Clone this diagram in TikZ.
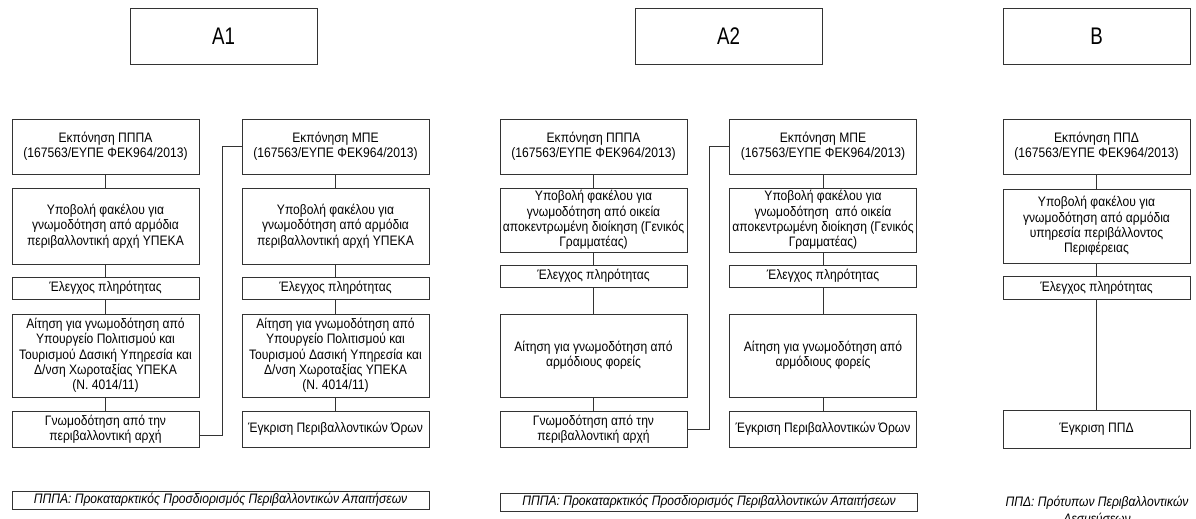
\documentclass[tikz,border=0pt]{standalone}
\usepackage{fontspec}
\setmainfont{Liberation Sans}[FakeStretch=0.88]
\newfontfamily\headfont[FakeStretch=0.78]{Liberation Sans}
\tikzset{procbox/.style={draw=black!80, line width=0.6pt, minimum width=140.25pt, inner sep=0pt,
			align=center, font=\fontsize{10.3}{11.5}\selectfont},
	headbox/.style={draw=black!80, line width=0.6pt, minimum width=140.25pt, minimum height=42pt,
			font=\headfont\fontsize{18}{20}\selectfont},
	notebox/.style={draw=black!80, line width=0.6pt, minimum width=312.75pt, minimum height=13.5pt,
			inner sep=0pt, font=\itshape\fontsize{10.3}{11}\selectfont},
	wire/.style={draw=black!80, line width=0.6pt}}

\begin{document}
\begin{tikzpicture}[x=0.75pt, y=-0.75pt]
	\useasboundingbox (0,0) rectangle (1196,518);

	% headings
	\node[headbox] (hA1) at (223.5, 36) {A1};
	\node[headbox] (hA2) at (728.5, 36) {A2};
	\node[headbox] (hB) at (1096.5, 36) {B};

	% A1, left
	\node[procbox, minimum height=41.25pt] (a1p1) at (105.5, 146.5) {Εκπόνηση ΠΠΠΑ\\(167563/ΕΥΠΕ ΦΕΚ964/2013)};
	\node[procbox, minimum height=57pt] (a1p2) at (105.5, 226) {Υποβολή φακέλου για\\γνωμοδότηση από αρμόδια\\περιβαλλοντική αρχή ΥΠΕΚΑ};
	\node[procbox, minimum height=16.5pt] (a1p3) at (105.5, 288) {Έλεγχος πληρότητας};
	\node[procbox, minimum height=62.25pt] (a1p4) at (105.5, 355.5) {Αίτηση για γνωμοδότηση από\\Υπουργείο Πολιτισμού και\\Τουρισμού Δασική Υπηρεσία και\\Δ/νση Χωροταξίας ΥΠΕΚΑ\\(Ν. 4014/11)};
	\node[procbox, minimum height=27pt] (a1p5) at (105.5, 429) {Γνωμοδότηση από την\\περιβαλλοντική αρχή};
	% A1, right
	\node[procbox, minimum height=41.25pt] (a1m1) at (335.5, 146.5) {Εκπόνηση ΜΠΕ\\(167563/ΕΥΠΕ ΦΕΚ964/2013)};
	\node[procbox, minimum height=57pt] (a1m2) at (335.5, 226) {Υποβολή φακέλου για\\γνωμοδότηση από αρμόδια\\περιβαλλοντική αρχή ΥΠΕΚΑ};
	\node[procbox, minimum height=16.5pt] (a1m3) at (335.5, 288) {Έλεγχος πληρότητας};
	\node[procbox, minimum height=62.25pt] (a1m4) at (335.5, 355.5) {Αίτηση για γνωμοδότηση από\\Υπουργείο Πολιτισμού και\\Τουρισμού Δασική Υπηρεσία και\\Δ/νση Χωροταξίας ΥΠΕΚΑ\\(Ν. 4014/11)};
	\node[procbox, minimum height=27pt] (a1m5) at (335.5, 429) {Έγκριση Περιβαλλοντικών Όρων};

	% A2, left
	\node[procbox, minimum height=41.25pt] (a2p1) at (593.5, 146.5) {Εκπόνηση ΠΠΠΑ\\(167563/ΕΥΠΕ ΦΕΚ964/2013)};
	\node[procbox, minimum height=48pt] (a2p2) at (593.5, 220) {Υποβολή φακέλου για\\γνωμοδότηση από οικεία\\αποκεντρωμένη διοίκηση (Γενικός\\Γραμματέας)};
	\node[procbox, minimum height=16.5pt] (a2p3) at (593.5, 276) {Έλεγχος πληρότητας};
	\node[procbox, minimum height=62.25pt] (a2p4) at (593.5, 355.5) {Αίτηση για γνωμοδότηση από\\αρμόδιους φορείς};
	\node[procbox, minimum height=27pt] (a2p5) at (593.5, 429) {Γνωμοδότηση από την\\περιβαλλοντική αρχή};
	% A2, right
	\node[procbox, minimum height=41.25pt] (a2m1) at (823, 146.5) {Εκπόνηση ΜΠΕ\\(167563/ΕΥΠΕ ΦΕΚ964/2013)};
	\node[procbox, minimum height=48pt] (a2m2) at (823, 220) {Υποβολή φακέλου για\\γνωμοδότηση \ από οικεία\\αποκεντρωμένη διοίκηση (Γενικός\\Γραμματέας)};
	\node[procbox, minimum height=16.5pt] (a2m3) at (823, 276) {Έλεγχος πληρότητας};
	\node[procbox, minimum height=62.25pt] (a2m4) at (823, 355.5) {Αίτηση για γνωμοδότηση από\\αρμόδιους φορείς};
	\node[procbox, minimum height=27pt] (a2m5) at (823, 429) {Έγκριση Περιβαλλοντικών Όρων};

	% B
	\node[procbox, minimum height=41.25pt] (bp1) at (1096.5, 146.5) {Εκπόνηση ΠΠΔ\\(167563/ΕΥΠΕ ΦΕΚ964/2013)};
	\node[procbox, minimum height=55.5pt] (bp2) at (1096.5, 226) {Υποβολή φακέλου για\\γνωμοδότηση από αρμόδια\\υπηρεσία περιβάλλοντος\\Περιφέρειας};
	\node[procbox, minimum height=17.25pt] (bp3) at (1096.5, 287.5) {Έλεγχος πληρότητας};
	\node[procbox, minimum height=28.5pt] (bp4) at (1096.5, 429) {Έγκριση ΠΠΔ};

	% footnotes
	\node[notebox] (nA1) at (220.5, 500) {ΠΠΠΑ: Προκαταρκτικός Προσδιορισμός Περιβαλλοντικών Απαιτήσεων};
	\node[notebox] (nA2) at (709, 502) {ΠΠΠΑ: Προκαταρκτικός Προσδιορισμός Περιβαλλοντικών Απαιτήσεων};
	\node[align=center, inner sep=0pt, anchor=north, font=\itshape\fontsize{10.3}{12.5}\selectfont] (nB) at (1097, 496) {ΠΠΔ: Πρότυπων Περιβαλλοντικών\\Δεσμεύσεων};

	\draw[wire] (a1p1) -- (a1p2) -- (a1p3) -- (a1p4) -- (a1p5);
	\draw[wire] (a1m1) -- (a1m2) -- (a1m3) -- (a1m4) -- (a1m5);
	\draw[wire] (a2p1) -- (a2p2) -- (a2p3) -- (a2p4) -- (a2p5);
	\draw[wire] (a2m1) -- (a2m2) -- (a2m3) -- (a2m4) -- (a2m5);
	\draw[wire] (bp1) -- (bp2) -- (bp3) -- (bp4);
	\draw[wire] ([yshift=-4.5pt]a1p5.east) -- ++(23,0) |- (a1m1.west);
	\draw[wire] (a2p5.east) -- ++(22,0) |- (a2m1.west);
\end{tikzpicture}
\end{document}
